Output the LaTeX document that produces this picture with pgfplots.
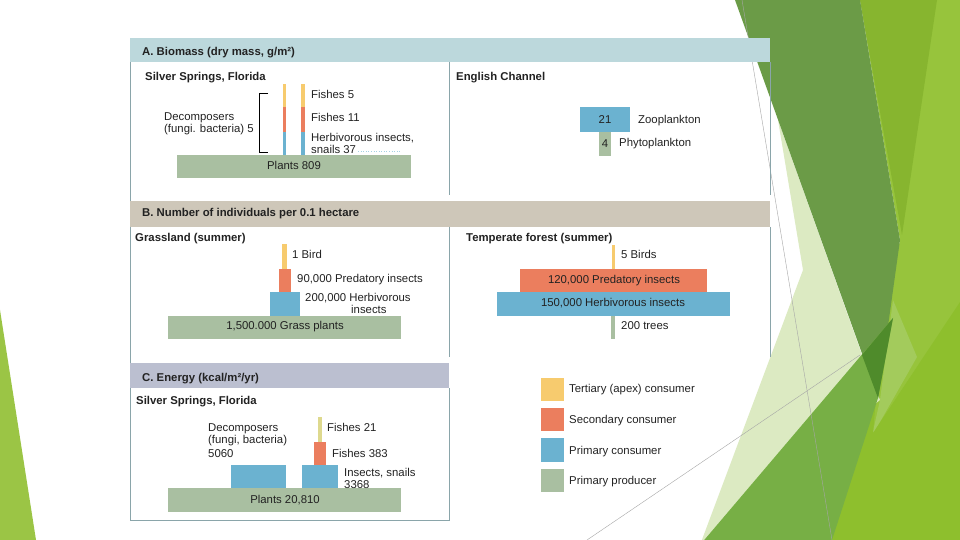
\documentclass[border=0pt]{standalone}
\usepackage{pgfplots}
\pgfplotsset{compat=1.18}
\usepackage{fontspec}
\setmainfont{Liberation Sans}

% trophic colours
\definecolor{tert}{HTML}{F7CB6E}
\definecolor{tertC}{HTML}{DED98E}
\definecolor{sec}{HTML}{EB7E5E}
\definecolor{prim}{HTML}{6BB2D0}
\definecolor{prod}{HTML}{A9BFA1}
% panel colours
\definecolor{hdrA}{HTML}{BCD8DC}
\definecolor{hdrB}{HTML}{CEC7B9}
\definecolor{hdrC}{HTML}{BBBFD0}
\definecolor{frame}{HTML}{8AA5AA}
\definecolor{ink}{HTML}{222222}
% slide background greens
\definecolor{gOlive}{HTML}{6B9B47}
\definecolor{gBright}{HTML}{87B52F}
\definecolor{gLight}{HTML}{97C43C}
\definecolor{gStrip}{HTML}{A3CB5C}
\definecolor{gPale}{HTML}{DCEAC2}
\definecolor{gMid}{HTML}{77AF45}
\definecolor{gYel}{HTML}{8EBF2D}
\definecolor{gDark}{HTML}{4F8B2B}
\definecolor{gLeft}{HTML}{9BC545}

% box: colour, x1, y1, x2, y2 (pixel units)
\newcommand\bx[5]{\addplot[draw=none, fill=#1] coordinates {(#2,#3) (#4,#3) (#4,#5) (#2,#5)} -- cycle;}

\begin{document}
\begin{tikzpicture}[font=\fontsize{11.4}{13}\selectfont, every node/.style={inner sep=0pt, text=ink}]
\begin{axis}[
  scale only axis, width=960bp, height=540bp,
  xmin=0, xmax=960, ymin=0, ymax=540, y dir=reverse,
  hide axis, clip=true]

  \bx{white}{0}{0}{960}{540}

  % background decoration
  \addplot[draw=none, fill=gLeft] coordinates {(0,310) (36,540) (0,540)} -- cycle;
  \addplot[draw=none, fill=gLight] coordinates {(860,0) (960,0) (960,540) (805,540) (868,400) (900,240)} -- cycle;
  \addplot[draw=none, fill=gBright] coordinates {(860,0) (937,0) (902,235)} -- cycle;
  \addplot[draw=none, fill=gPale] coordinates {(778,120) (803,270) (700,545) (880,400) (862,355)} -- cycle;
  \addplot[draw=none, fill=gOlive] coordinates {(735,0) (860,0) (900,240) (878,398)} -- cycle;
  \addplot[draw=none, fill=gStrip] coordinates {(893,300) (917,357) (872,436) (880,400)} -- cycle;
  \addplot[draw=none, fill=gYel] coordinates {(822,540) (960,540) (960,302) (873,433) (876,398)} -- cycle;
  \addplot[draw=none, fill=gMid] coordinates {(700,545) (893,318) (878,398) (832,540)} -- cycle;
  \addplot[draw=none, fill=gDark] coordinates {(862,355) (893,318) (878,398)} -- cycle;

  % thin guide lines of the slide
  \addplot[gray!70, line width=0.4pt] coordinates {(742,0) (832,540)};
  \addplot[gray!70, line width=0.4pt] coordinates {(587,540) (860,355)};

  % panel headers
  \bx{hdrA}{130}{38}{770}{62}
  \bx{hdrB}{130}{201}{770}{227}
  \bx{hdrC}{130}{363}{449}{388}

  % frame lines
  \addplot[frame, line width=0.6pt] coordinates {(130,62) (130,201)};
  \addplot[frame, line width=0.6pt] coordinates {(449,62) (449,195)};
  \addplot[frame, line width=0.6pt] coordinates {(770,62) (770,195)};
  \addplot[frame, line width=0.6pt] coordinates {(130,227) (130,363)};
  \addplot[frame, line width=0.6pt] coordinates {(449,227) (449,357)};
  \addplot[frame, line width=0.6pt] coordinates {(770,227) (770,357)};
  \addplot[frame, line width=0.6pt] coordinates {(130,388) (130,520) (449,520) (449,388)};

  % A. biomass, Silver Springs
  \bx{tert}{283}{84}{286}{107}
  \bx{sec}{283}{107}{286}{132}
  \bx{prim}{283}{132}{286}{155}
  \bx{tert}{301}{84}{305}{107}
  \bx{sec}{301}{107}{305}{132}
  \bx{prim}{301}{132}{305}{155}
  \bx{prod}{177}{155}{411}{178}
  \addplot[black, line width=1pt] coordinates {(268,94) (259,94) (259,153) (268,153)};
  \addplot[prim!60, dotted, line width=0.6pt] coordinates {(358,151) (400,151)};

  % A. biomass, English Channel
  \bx{prim}{580}{107}{630}{132}
  \bx{prod}{599}{132}{611}{156}

  % B. grassland
  \bx{tert}{282}{244}{287}{269}
  \bx{sec}{279}{269}{291}{292}
  \bx{prim}{270}{292}{300}{316}
  \bx{prod}{168}{316}{401}{339}

  % B. temperate forest
  \bx{tert}{612}{245}{615}{269}
  \bx{sec}{520}{269}{707}{292}
  \bx{prim}{497}{292}{730}{316}
  \bx{prod}{611}{316}{615}{339}

  % C. energy
  \bx{tertC}{318}{417}{322}{442}
  \bx{sec}{314}{442}{326}{465}
  \bx{prim}{231}{465}{286}{488}
  \bx{prim}{302}{465}{338}{488}
  \bx{prod}{168}{488}{401}{512}

  % legend swatches
  \bx{tert}{541}{378}{564}{401}
  \bx{sec}{541}{408}{564}{431}
  \bx{prim}{541}{438}{564}{462}
  \bx{prod}{541}{469}{564}{492}

  % headers
  \node[anchor=base west, font=\fontsize{11.4}{13}\selectfont\bfseries] at (142,56) {A. Biomass (dry mass, g/m²)};
  \node[anchor=base west, font=\fontsize{11.4}{13}\selectfont\bfseries] at (142,217) {B. Number of individuals per 0.1 hectare};
  \node[anchor=base west, font=\fontsize{11.4}{13}\selectfont\bfseries] at (142,382) {C. Energy (kcal/m²/yr)};

  % A texts
  \node[anchor=base west, font=\fontsize{11.4}{13}\selectfont\bfseries] at (145,81) {Silver Springs, Florida};
  \node[anchor=base west] at (311,99) {Fishes 5};
  \node[anchor=base west] at (311,122) {Fishes 11};
  \node[anchor=base west] at (311,142) {Herbivorous insects,};
  \node[anchor=base west] at (311,154) {snails 37};
  \node[anchor=base west] at (164,121) {Decomposers};
  \node[anchor=base west] at (164,133) {(fungi. bacteria) 5};
  \node[anchor=base] at (294,170) {Plants 809};
  \node[anchor=base west, font=\fontsize{11.4}{13}\selectfont\bfseries] at (456,81) {English Channel};
  \node[anchor=base] at (605,124) {21};
  \node[anchor=base west] at (638,124) {Zooplankton};
  \node[anchor=base] at (605,148) {4};
  \node[anchor=base west] at (619,147) {Phytoplankton};

  % B texts
  \node[anchor=base west, font=\fontsize{11.4}{13}\selectfont\bfseries] at (135,242) {Grassland (summer)};
  \node[anchor=base west] at (292,259) {1 Bird};
  \node[anchor=base west] at (297,283) {90,000 Predatory insects};
  \node[anchor=base west] at (305,302) {200,000 Herbivorous};
  \node[anchor=base west] at (351,314) {insects};
  \node[anchor=base] at (285,330) {1,500.000 Grass plants};
  \node[anchor=base west, font=\fontsize{11.4}{13}\selectfont\bfseries] at (466,242) {Temperate forest (summer)};
  \node[anchor=base west] at (621,259) {5 Birds};
  \node[anchor=base] at (614,284) {120,000 Predatory insects};
  \node[anchor=base] at (613,307) {150,000 Herbivorous insects};
  \node[anchor=base west] at (621,330) {200 trees};

  % C texts
  \node[anchor=base west, font=\fontsize{11.4}{13}\selectfont\bfseries] at (136,404) {Silver Springs, Florida};
  \node[anchor=base west] at (208,431) {Decomposers};
  \node[anchor=base west] at (208,443) {(fungi, bacteria)};
  \node[anchor=base west] at (208,457) {5060};
  \node[anchor=base west] at (327,431) {Fishes 21};
  \node[anchor=base west] at (332,457) {Fishes 383};
  \node[anchor=base west] at (344,476) {Insects, snails};
  \node[anchor=base west] at (344,488) {3368};
  \node[anchor=base] at (285,503) {Plants 20,810};

  % legend texts
  \node[anchor=base west] at (569,392) {Tertiary (apex) consumer};
  \node[anchor=base west] at (569,423) {Secondary consumer};
  \node[anchor=base west] at (569,454) {Primary consumer};
  \node[anchor=base west] at (569,484) {Primary producer};
\end{axis}
\end{tikzpicture}
\end{document}
